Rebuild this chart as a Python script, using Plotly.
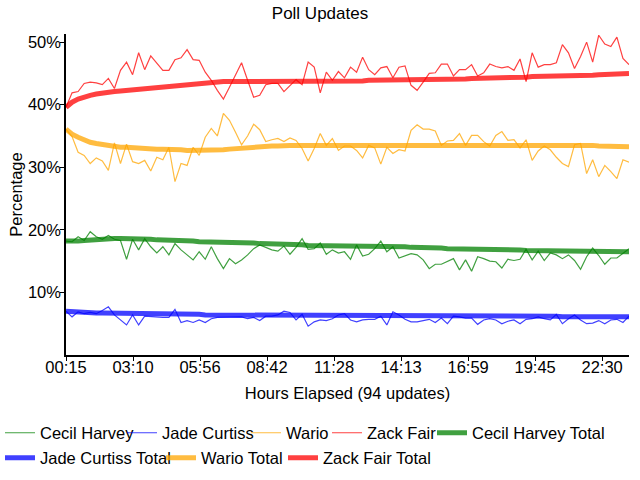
import plotly.graph_objects as go

updates = list(range(94))
tick_positions = [0, 11.07, 22.14, 33.21, 44.28, 55.35, 66.42, 77.49, 88.56]
tick_labels = ["00:15", "03:10", "05:56", "08:42", "11:28", "14:13", "16:59", "19:45", "22:30"]
y_ticks = [10, 20, 30, 40, 50]
y_tick_labels = ["10%", "20%", "30%", "40%", "50%"]

cecil_harvey = [
    18.2, 18.1, 18.9, 18.3, 19.7, 18.9, 18.5, 19.1, 18.5, 18.3, 15.3, 18.5, 16.8, 18.6, 17.3, 16.3, 17.3, 16.0, 17.8, 16.8, 16.0, 15.2, 16.5, 15.3,
    17.3, 15.4, 13.8, 15.4, 14.6, 15.2, 16.0, 17.0, 17.6, 17.2, 16.8, 16.6, 17.4, 16.1, 17.2, 18.6, 16.9, 17.0, 17.9, 16.1, 16.8, 16.3, 16.5, 15.3,
    17.6, 15.8, 16.1, 17.0, 18.2, 16.5, 17.3, 15.5, 15.9, 16.2, 16.0, 15.2, 13.8, 14.5, 14.5, 14.9, 15.4, 13.6, 15.2, 13.4, 15.7, 15.4, 15.0, 14.9,
    13.9, 15.3, 15.1, 15.3, 16.9, 15.2, 16.6, 15.1, 16.3, 16.0, 15.4, 16.0, 15.1, 13.7, 15.7, 17.1, 15.9, 14.5, 15.5, 15.5, 16.3, 17.0,
]
jade_curtiss = [
    7.0, 6.1, 6.9, 6.6, 6.8, 6.6, 7.1, 7.7, 6.4, 5.6, 4.8, 6.4, 4.8, 6.2, 6.1, 6.1, 6.0, 6.0, 7.3, 5.2, 5.5, 5.2, 5.6, 5.2,
    5.8, 6.0, 6.0, 6.1, 6.0, 6.1, 5.8, 6.0, 5.5, 6.2, 6.2, 6.4, 7.0, 6.8, 5.6, 6.5, 4.6, 5.3, 5.6, 5.5, 5.8, 6.4, 6.6, 5.6,
    5.3, 5.6, 5.7, 5.7, 6.2, 4.8, 6.9, 6.4, 5.7, 5.3, 5.3, 5.5, 5.7, 5.2, 5.9, 5.0, 6.2, 6.1, 5.9, 5.9, 4.9, 5.6, 5.8, 5.6,
    5.0, 5.4, 5.6, 5.0, 5.7, 5.8, 6.1, 5.8, 5.6, 6.5, 5.0, 5.8, 6.4, 5.6, 5.0, 5.1, 5.5, 5.0, 5.6, 5.7, 5.2, 6.2,
]
wario = [
    36.1, 34.9, 32.4, 31.9, 30.6, 31.5, 31.0, 29.5, 33.9, 30.6, 33.7, 30.9, 30.6, 31.1, 29.4, 31.6, 31.2, 33.2, 27.7, 30.6, 30.3, 33.2, 31.9, 34.8,
    36.2, 35.0, 38.6, 37.5, 35.6, 33.6, 35.0, 36.9, 36.0, 34.1, 34.4, 34.6, 34.1, 34.7, 34.3, 33.0, 31.0, 33.0, 35.4, 33.5, 34.6, 32.7, 33.4, 33.4,
    32.7, 31.5, 33.5, 33.1, 30.5, 33.2, 32.2, 32.8, 32.6, 35.9, 36.8, 36.1, 36.1, 35.8, 33.5, 34.2, 34.3, 35.4, 33.5, 35.1, 35.1, 34.1, 33.4, 35.1,
    35.7, 34.3, 34.4, 33.1, 34.4, 31.1, 32.6, 33.4, 32.8, 31.6, 30.6, 30.1, 33.6, 33.8, 29.0, 31.2, 28.5, 30.3, 29.3, 28.2, 31.2, 30.8,
]
zack_fair = [
    39.6, 41.9, 42.1, 43.4, 43.6, 43.5, 43.2, 44.2, 42.6, 45.5, 46.8, 44.8, 48.3, 45.6, 47.8, 46.7, 45.5, 45.5, 47.2, 47.5, 48.8, 47.2, 47.1, 45.2,
    43.9, 42.3, 40.9, 42.8, 44.7, 46.7, 43.9, 41.2, 41.5, 43.2, 43.4, 43.4, 42.1, 43.1, 44.0, 43.2, 46.8, 46.0, 41.9, 45.2, 43.9, 45.3, 44.3, 46.0,
    45.2, 47.6, 45.6, 44.8, 45.9, 46.1, 44.3, 46.0, 46.2, 43.1, 42.3, 43.6, 45.0, 45.1, 46.5, 46.5, 44.6, 45.6, 45.6, 46.4, 44.6, 45.1, 46.5, 46.1,
    45.9, 46.1, 45.5, 47.3, 43.7, 48.3, 46.0, 46.4, 46.4, 46.7, 49.6, 48.3, 45.8, 47.7, 50.0, 46.8, 51.1, 49.7, 49.3, 50.8, 47.4, 46.4,
]
cecil_harvey_total = [
    18.2, 18.1, 18.2, 18.3, 18.4, 18.5, 18.5, 18.5, 18.6, 18.6, 18.6, 18.6, 18.5, 18.5, 18.5, 18.4, 18.4, 18.3, 18.3, 18.2, 18.2, 18.2, 18.1, 18.1,
    18.1, 18.1, 18.0, 18.0, 18.0, 17.9, 17.9, 17.9, 17.8, 17.8, 17.7, 17.7, 17.7, 17.6, 17.6, 17.6, 17.5, 17.5, 17.5, 17.5, 17.5, 17.4, 17.4, 17.4,
    17.4, 17.4, 17.3, 17.3, 17.3, 17.3, 17.3, 17.3, 17.3, 17.2, 17.2, 17.2, 17.1, 17.1, 17.1, 17.0, 17.0, 16.9, 16.9, 16.9, 16.8, 16.8, 16.8, 16.8,
    16.8, 16.8, 16.8, 16.8, 16.7, 16.7, 16.7, 16.7, 16.7, 16.7, 16.7, 16.6, 16.6, 16.6, 16.5, 16.5, 16.5, 16.5, 16.5, 16.5, 16.5, 16.5,
]
jade_curtiss_total = [
    7.0, 6.9, 6.8, 6.7, 6.7, 6.7, 6.7, 6.7, 6.7, 6.7, 6.7, 6.7, 6.7, 6.7, 6.7, 6.6, 6.6, 6.6, 6.6, 6.6, 6.5, 6.5, 6.5, 6.4,
    6.4, 6.4, 6.4, 6.4, 6.4, 6.4, 6.4, 6.4, 6.3, 6.3, 6.3, 6.3, 6.3, 6.3, 6.3, 6.3, 6.3, 6.3, 6.3, 6.3, 6.3, 6.3, 6.3, 6.3,
    6.3, 6.3, 6.3, 6.3, 6.3, 6.3, 6.3, 6.3, 6.3, 6.3, 6.3, 6.3, 6.3, 6.3, 6.3, 6.3, 6.3, 6.3, 6.3, 6.3, 6.2, 6.2, 6.2, 6.2,
    6.2, 6.2, 6.2, 6.2, 6.2, 6.2, 6.2, 6.2, 6.2, 6.2, 6.1, 6.1, 6.1, 6.1, 6.1, 6.1, 6.1, 6.1, 6.1, 6.1, 6.1, 6.1,
]
wario_total = [
    36.1, 35.3, 34.8, 34.3, 34.0, 33.8, 33.6, 33.4, 33.3, 33.2, 33.2, 33.1, 33.1, 33.0, 33.0, 32.9, 32.9, 32.9, 32.8, 32.8, 32.7, 32.7, 32.6, 32.6,
    32.6, 32.7, 32.8, 32.9, 33.0, 33.1, 33.2, 33.2, 33.3, 33.3, 33.4, 33.4, 33.5, 33.5, 33.5, 33.5, 33.5, 33.5, 33.6, 33.6, 33.6, 33.6, 33.6, 33.6,
    33.5, 33.5, 33.5, 33.5, 33.5, 33.5, 33.5, 33.5, 33.5, 33.6, 33.6, 33.6, 33.6, 33.6, 33.7, 33.7, 33.7, 33.7, 33.7, 33.7, 33.7, 33.7, 33.7, 33.7,
    33.7, 33.7, 33.7, 33.7, 33.7, 33.7, 33.7, 33.7, 33.7, 33.6, 33.6, 33.6, 33.6, 33.5, 33.5, 33.5, 33.4, 33.4, 33.4, 33.3, 33.3, 33.3,
]
zack_fair_total = [
    39.6, 40.4, 40.9, 41.3, 41.5, 41.7, 41.9, 42.0, 42.1, 42.2, 42.3, 42.4, 42.5, 42.6, 42.7, 42.8, 42.9, 43.0, 43.1, 43.2, 43.3, 43.4, 43.5, 43.6,
    43.6, 43.7, 43.7, 43.7, 43.7, 43.7, 43.7, 43.7, 43.6, 43.6, 43.6, 43.6, 43.6, 43.6, 43.7, 43.7, 43.7, 43.7, 43.7, 43.8, 43.8, 43.8, 43.8, 43.8,
    43.8, 43.8, 43.9, 43.9, 43.9, 43.9, 44.0, 44.0, 44.0, 44.0, 44.0, 44.0, 44.0, 44.0, 44.0, 44.0, 44.1, 44.1, 44.1, 44.2, 44.2, 44.2, 44.3, 44.3,
    44.4, 44.4, 44.4, 44.4, 44.4, 44.5, 44.5, 44.5, 44.5, 44.5, 44.6, 44.6, 44.6, 44.7, 44.7, 44.7, 44.8, 44.8, 44.9, 44.9, 44.9, 45.0,
]

series_names = ["Cecil Harvey", "Jade Curtiss", "Wario", "Zack Fair",
                "Cecil Harvey Total", "Jade Curtiss Total", "Wario Total", "Zack Fair Total"]
series_values = [cecil_harvey, jade_curtiss, wario, zack_fair,
                 cecil_harvey_total, jade_curtiss_total, wario_total, zack_fair_total]

colors = ["rgba(0,128,0,0.75)", "rgba(0,0,255,0.75)", "rgba(255,165,0,0.75)", "rgba(255,0,0,0.75)"] * 2
widths = [1.2] * 4 + [5] * 4
# legend entry placement (text start px, row centre px)
legend_text_x = [36, 162, 286, 367, 472, 36, 201, 323]
legend_row_y = [433, 433, 433, 433, 433, 458, 458, 458]

FONT = "Liberation Sans, Arial, sans-serif"
FS = 16.5

fig = go.Figure()
legend_layouts = {}
for k, (name, vals) in enumerate(zip(series_names, series_values)):
    lname = "legend" if k == 0 else f"legend{k + 1}"
    fig.add_trace(go.Scatter(x=updates, y=vals, mode="lines", name=name,
                             line=dict(color=colors[k], width=widths[k]),
                             legend=lname))
    legend_layouts[lname] = dict(
        orientation="h", xref="container", yref="container",
        x=max(legend_text_x[k] - 40, 0) / 640, y=1 - legend_row_y[k] / 480,
        xanchor="left", yanchor="middle", font=dict(family=FONT, size=FS, color="black"),
        itemwidth=30, bgcolor="rgba(0,0,0,0)", borderwidth=0,
    )

fig.update_layout(
    width=640, height=480,
    margin=dict(l=66, r=11, t=34, b=125, autoexpand=False),
    plot_bgcolor="white", paper_bgcolor="white",
    font=dict(family=FONT, size=FS, color="black"),
    title=dict(text="Poll Updates", x=0.5, xref="container", xanchor="center",
               y=1 - 13 / 480, yref="container", yanchor="middle",
               font=dict(family=FONT, size=17, color="black")),
    xaxis=dict(range=[0, 93], tickvals=tick_positions, ticktext=tick_labels,
               showline=True, linecolor="black", linewidth=1.5, automargin=False,
               ticks="outside", ticklen=4, tickcolor="black", showgrid=False, zeroline=False,
               ticklabelstandoff=-8,
               title=dict(text="Hours Elapsed (94 updates)", standoff=13, font=dict(size=FS)),
               tickfont=dict(size=FS)),
    yaxis=dict(range=[0, 51.3], tickvals=y_ticks, ticktext=y_tick_labels,
               showline=True, linecolor="black", linewidth=1.5, automargin=False,
               ticks="outside", ticklen=4, tickcolor="black", showgrid=False, zeroline=False,
               ticklabelstandoff=-4,
               title=dict(text="Percentage", standoff=1, font=dict(size=FS)),
               tickfont=dict(size=FS)),
    showlegend=True,
    **legend_layouts,
)

fig.write_html("out.html")
